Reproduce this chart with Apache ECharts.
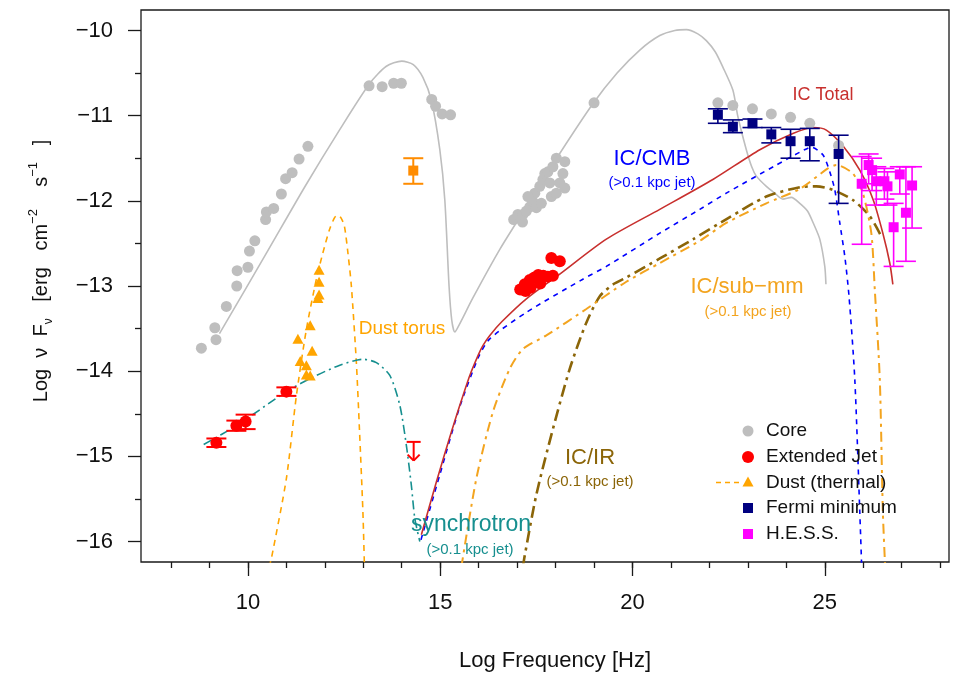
<!DOCTYPE html>
<html>
<head>
<meta charset="utf-8">
<script src="https://cdn.jsdelivr.net/npm/echarts@6/dist/echarts.min.js"></script>
<style>
html, body { margin: 0; padding: 0; background: #ffffff; }
#chart { width: 960px; height: 674px; }
</style>
</head>
<body>
<div id="chart"></div>
<script>
// ---- axis ticks ----
const xMajorTicks = [10, 15, 20, 25];
const xMinorTicks = [8, 9, 10, 11, 12, 13, 14, 15, 16, 17, 18, 19, 20, 21, 22, 23, 24, 25, 26, 27, 28];
const yMajorTicks = [-16, -15, -14, -13, -12, -11, -10];
const yMinorTicks = [-15.5, -14.5, -13.5, -12.5, -11.5, -10.5];

// ---- observed data: [log nu, log nuFnu] ----
const corePoints = [
  [8.79, -13.73], [9.14, -13.49], [9.17, -13.63], [9.44, -13.24], [9.71, -13.0], [9.72, -12.82],
  [10.0, -12.78], [10.04, -12.59], [10.18, -12.47], [10.46, -12.22], [10.48, -12.13], [10.67, -12.09],
  [10.87, -11.92], [10.98, -11.74], [11.15, -11.67], [11.33, -11.51], [11.56, -11.36],
  [13.15, -10.65], [13.49, -10.66], [13.79, -10.62], [13.99, -10.62],
  [14.78, -10.81], [14.88, -10.89], [15.05, -10.98], [15.27, -10.99],
  [16.91, -12.22], [17.14, -12.25], [17.02, -12.16], [17.15, -12.16], [17.24, -12.12], [17.33, -12.07],
  [17.41, -12.01], [17.50, -12.08], [17.46, -11.91], [17.28, -11.95], [17.63, -12.03], [17.59, -11.83],
  [17.67, -11.75], [17.72, -11.68], [17.85, -11.79], [17.89, -11.95], [18.02, -11.91], [17.80, -11.66],
  [17.93, -11.60], [18.11, -11.79], [18.24, -11.85], [18.19, -11.68], [18.02, -11.50], [18.24, -11.54],
  [19.0, -10.85],
  [22.22, -10.85], [22.61, -10.88], [23.12, -10.92], [23.61, -10.98], [24.11, -11.02], [24.61, -11.09], [25.36, -11.35]
];
// extended jet with small vertical errors: [x, y, low, high]
const jetErrPoints = [
  [9.18, -14.84, -14.89, -14.79],
  [9.70, -14.64, -14.70, -14.58],
  [9.94, -14.59, -14.68, -14.51],
  [11.0, -14.24, -14.29, -14.19]
];
const jetPoints = [
  [17.89, -12.67], [18.11, -12.71], [17.08, -13.04], [17.22, -13.06], [17.2, -12.98], [17.33, -12.93],
  [17.35, -13.02], [17.45, -12.90], [17.55, -12.87], [17.60, -12.97], [17.68, -12.88], [17.80, -12.89], [17.93, -12.88]
];
// upper limit: [x, limit, arrow tip]
const jetUpperLimit = [[14.31, -14.83, -15.05]];
const dustPoints = [
  [11.85, -12.81], [11.85, -12.95], [11.85, -13.10], [11.82, -13.14], [11.62, -13.46], [11.30, -13.62],
  [11.67, -13.76], [11.36, -13.88], [11.52, -13.93], [11.52, -14.04], [11.62, -14.05]
];
const dustErrPoint = [[14.30, -11.645, -11.80, -11.50]];
const fermiPoints = [
  [22.22, -10.99, -11.09, -10.92],
  [22.61, -11.13, -11.20, -11.05],
  [23.12, -11.09, -11.14, -11.04],
  [23.61, -11.22, -11.32, -11.14],
  [24.11, -11.30, -11.50, -11.16],
  [24.61, -11.30, -11.53, -11.15],
  [25.36, -11.45, -12.03, -11.23]
];
const hessPoints = [
  [25.96, -11.80, -12.51, -11.48],
  [26.14, -11.58, -11.80, -11.45],
  [26.23, -11.64, -11.88, -11.50],
  [26.34, -11.77, -12.05, -11.60],
  [26.55, -11.77, -11.98, -11.62],
  [26.63, -11.83, -12.05, -11.66],
  [26.95, -11.69, -11.92, -11.60],
  [27.27, -11.82, -12.32, -11.60],
  [27.11, -12.14, -12.71, -11.60],
  [26.79, -12.31, -12.77, -12.03]
];

// ---- model curves ----
const coreModel = [
  [9.26, -13.56], [10.5, -12.60], [11.5, -11.82], [12.38, -11.17], [13.17, -10.62], [13.6, -10.42],
  [14.0, -10.36], [14.3, -10.40], [14.55, -10.55], [14.77, -10.82], [14.99, -11.40], [15.12, -11.99],
  [15.23, -13.0], [15.30, -13.40], [15.38, -13.54], [15.5, -13.45], [15.85, -13.14], [16.55, -12.57],
  [17.24, -12.07], [18.1, -11.45], [18.97, -10.86], [19.6, -10.50], [20.19, -10.23], [20.71, -10.06],
  [21.1, -10.0], [21.4, -9.99], [21.7, -10.04], [21.92, -10.12], [22.15, -10.25], [22.35, -10.43],
  [22.61, -10.70], [22.74, -11.01], [22.96, -11.40], [23.1, -11.60], [23.22, -11.71], [23.48, -11.83],
  [23.70, -11.91], [23.91, -11.98], [24.13, -11.96], [24.35, -12.03], [24.55, -12.12], [24.70, -12.26],
  [24.87, -12.45], [25.0, -12.77], [25.03, -12.98]
];
const dustTorus = [
  [10.55, -16.3], [10.61, -16.2], [11.0, -15.26], [11.26, -14.29], [11.52, -13.51], [11.78, -12.92],
  [11.95, -12.61], [12.12, -12.34], [12.25, -12.20], [12.32, -12.17], [12.42, -12.20], [12.51, -12.30],
  [12.60, -12.61], [12.69, -13.0], [12.82, -13.90], [12.90, -14.68], [12.99, -15.65], [13.03, -16.3]
];
const synchrotron = [
  [8.85, -14.86], [9.70, -14.64], [11.0, -14.24], [11.69, -14.07], [12.39, -13.93], [12.99, -13.86],
  [13.34, -13.90], [13.69, -14.05], [13.95, -14.40], [14.12, -14.87], [14.25, -15.34], [14.34, -15.73], [14.47, -16.0]
];
const icIR = [
  [17.15, -16.3], [17.20, -16.16], [17.50, -15.45], [17.93, -14.68], [18.37, -13.97], [18.80, -13.43],
  [19.15, -13.12], [19.5, -12.98], [19.84, -12.90], [20.7, -12.68], [21.58, -12.45], [22.5, -12.20],
  [23.48, -11.95], [24.35, -11.84], [24.78, -11.83], [25.2, -11.87], [25.73, -11.99], [26.17, -12.18], [26.45, -12.40]
];
const icSubmm = [
  [15.55, -16.3], [15.94, -15.26], [16.37, -14.48], [16.81, -13.97], [17.15, -13.74], [17.76, -13.58],
  [18.80, -13.27], [19.84, -12.95], [20.71, -12.73], [21.75, -12.47], [22.44, -12.26], [23.48, -12.03],
  [24.35, -11.86], [25.08, -11.62], [25.30, -11.58], [25.73, -11.68], [25.99, -11.91], [26.21, -12.38],
  [26.30, -13.04], [26.43, -14.09], [26.51, -15.65], [26.57, -16.3]
];
const icCMB = [
  [14.5, -15.98], [15.0, -15.2], [15.5, -14.43], [16.0, -13.83], [16.29, -13.62], [17.24, -13.31],
  [18.71, -12.92], [19.32, -12.77], [20.71, -12.38], [21.75, -12.10], [22.44, -11.91], [23.74, -11.58],
  [24.35, -11.43], [24.65, -11.37], [24.95, -11.46], [25.13, -11.66], [25.26, -11.87], [25.39, -12.26],
  [25.52, -12.65], [25.63, -13.12], [25.78, -14.09], [25.91, -15.65], [25.96, -16.3]
];
const icTotal = [
  [14.51, -15.92], [14.9, -15.3], [15.3, -14.7], [15.51, -14.40], [15.77, -14.05], [16.0, -13.80],
  [16.11, -13.70], [16.29, -13.58], [16.6, -13.42], [17.24, -13.15], [18.11, -12.86], [19.32, -12.45],
  [20.71, -12.10], [22.09, -11.75], [23.31, -11.40], [24.17, -11.21], [24.70, -11.14], [25.04, -11.17],
  [25.48, -11.36], [25.91, -11.64], [26.26, -11.99], [26.51, -12.38], [26.69, -12.73], [26.77, -12.98]
];

const FONT = '"Liberation Sans", Arial, Helvetica, sans-serif';
const C = {
  core: '#bebebe', jet: '#ff0000', dust: '#ffa500', dustData: '#ff8c00', fermi: '#000080',
  hess: '#ff00ff', sync: '#168f8f', cmb: '#0000ff', submm: '#f3a41f', ir: '#8b6508', total: '#c8302e'
};

function minusFmt(v) { return (v < 0 ? '\u2212' : '') + Math.abs(v); }

function curve(name, data, color, width, dash) {
  return {
    name: name, type: 'line', data: data, showSymbol: false, symbol: 'none',
    smooth: 0.25, silent: true, z: 2,
    lineStyle: { color: color, width: width, type: dash }
  };
}

// vertical error bar with caps, drawn through the axis scales
function errorBars(name, data, color, width, halfCap) {
  return {
    name: name, type: 'custom', data: data, silent: true, z: 4,
    encode: { x: 0, y: 1 },
    renderItem: function (params, api) {
      const x = api.value(0);
      const lo = api.coord([x, api.value(2)]);
      const hi = api.coord([x, api.value(3)]);
      const st = { stroke: color, lineWidth: width, fill: null };
      return {
        type: 'group', children: [
          { type: 'line', shape: { x1: lo[0], y1: lo[1], x2: hi[0], y2: hi[1] }, style: st },
          { type: 'line', shape: { x1: lo[0] - halfCap, y1: lo[1], x2: lo[0] + halfCap, y2: lo[1] }, style: st },
          { type: 'line', shape: { x1: hi[0] - halfCap, y1: hi[1], x2: hi[0] + halfCap, y2: hi[1] }, style: st }
        ]
      };
    }
  };
}

function upperLimit(name, data, color) {
  return {
    name: name, type: 'custom', data: data, silent: true, z: 4,
    encode: { x: 0, y: 1 },
    renderItem: function (params, api) {
      const x = api.value(0);
      const top = api.coord([x, api.value(1)]);
      const tip = api.coord([x, api.value(2)]);
      const st = { stroke: color, lineWidth: 2, fill: null };
      return {
        type: 'group', children: [
          { type: 'line', shape: { x1: top[0] - 7, y1: top[1], x2: top[0] + 7, y2: top[1] }, style: st },
          { type: 'line', shape: { x1: top[0], y1: top[1], x2: tip[0], y2: tip[1] }, style: st },
          { type: 'line', shape: { x1: tip[0] - 6, y1: tip[1] - 6, x2: tip[0], y2: tip[1] }, style: st },
          { type: 'line', shape: { x1: tip[0] + 6, y1: tip[1] - 6, x2: tip[0], y2: tip[1] }, style: st }
        ]
      };
    }
  };
}

function scatter(name, data, color, symbol, size) {
  return {
    name: name, type: 'scatter', data: data.map(function (d) { return [d[0], d[1]]; }),
    symbol: symbol, symbolSize: size, silent: true, z: 3,
    itemStyle: { color: color, opacity: 1 }
  };
}

function label(text, x, y, color, size) {
  return {
    type: 'text', x: x, y: y, z: 10, silent: true,
    style: { text: text, fill: color, font: size + 'px ' + FONT, align: 'center', verticalAlign: 'middle' }
  };
}

const legendRows = [431, 457, 482.5, 508, 534];
const legendGraphics = [
  { type: 'circle', shape: { cx: 748, cy: legendRows[0], r: 5.5 }, style: { fill: C.core }, z: 10 },
  { type: 'circle', shape: { cx: 748, cy: legendRows[1], r: 6 }, style: { fill: C.jet }, z: 10 },
  { type: 'line', shape: { x1: 716, y1: legendRows[2], x2: 742, y2: legendRows[2] }, style: { stroke: C.dust, lineWidth: 1.5, lineDash: [5, 4] }, z: 10 },
  { type: 'polygon', shape: { points: [[748, legendRows[2] - 6], [753.5, legendRows[2] + 4], [742.5, legendRows[2] + 4]] }, style: { fill: C.dust }, z: 10 },
  { type: 'rect', shape: { x: 743, y: legendRows[3] - 5, width: 10, height: 10 }, style: { fill: C.fermi }, z: 10 },
  { type: 'rect', shape: { x: 743, y: legendRows[4] - 5, width: 10, height: 10 }, style: { fill: C.hess }, z: 10 }
];
const legendNames = ['Core', 'Extended Jet', 'Dust (thermal)', 'Fermi minimum', 'H.E.S.S.'];
legendNames.forEach(function (n, i) {
  legendGraphics.push({
    type: 'text', x: 766, y: legendRows[i], z: 10, silent: true,
    style: { text: n, fill: '#111', font: '19px ' + FONT, align: 'left', verticalAlign: 'middle' }
  });
});

const xRange = { min: 7.22, max: 28.23 };
const yRange = { min: -16.24, max: -9.76 };

const option = {
  animation: false,
  backgroundColor: '#ffffff',
  grid: { left: 141, top: 10, right: 11, bottom: 112, show: true, borderColor: '#1a1a1a', borderWidth: 1.3, backgroundColor: 'transparent' },
  xAxis: [
    {
      type: 'value', min: xRange.min, max: xRange.max, position: 'bottom',
      axisLine: { show: false }, splitLine: { show: false },
      axisTick: { show: true, customValues: xMajorTicks, length: 14, lineStyle: { color: '#1a1a1a', width: 1.3 } },
      axisLabel: { show: true, customValues: xMajorTicks, margin: 30, color: '#111', fontSize: 22, fontFamily: FONT, formatter: minusFmt }
    },
    {
      type: 'value', min: xRange.min, max: xRange.max, position: 'bottom',
      axisLine: { show: false }, splitLine: { show: false }, axisLabel: { show: false },
      axisTick: { show: true, customValues: xMinorTicks, length: 6, lineStyle: { color: '#1a1a1a', width: 1.3 } }
    }
  ],
  yAxis: [
    {
      type: 'value', min: yRange.min, max: yRange.max, position: 'left',
      axisLine: { show: false }, splitLine: { show: false },
      axisTick: { show: true, customValues: yMajorTicks, length: 13, lineStyle: { color: '#1a1a1a', width: 1.3 } },
      axisLabel: { show: true, customValues: yMajorTicks, margin: 28, color: '#111', fontSize: 22, fontFamily: FONT, formatter: minusFmt }
    },
    {
      type: 'value', min: yRange.min, max: yRange.max, position: 'left',
      axisLine: { show: false }, splitLine: { show: false }, axisLabel: { show: false },
      axisTick: { show: true, customValues: yMinorTicks, length: 6, lineStyle: { color: '#1a1a1a', width: 1.3 } }
    }
  ],
  series: [
    curve('Core model', coreModel, C.core, 1.6, 'solid'),
    curve('Dust torus', dustTorus, C.dust, 1.6, [6, 5]),
    curve('synchrotron', synchrotron, C.sync, 1.6, [9, 4, 2, 4]),
    curve('IC/IR', icIR, C.ir, 2.6, [12, 5, 3, 5]),
    curve('IC/sub-mm', icSubmm, C.submm, 2.0, [10, 5, 3, 5]),
    curve('IC/CMB', icCMB, C.cmb, 1.6, [5, 5]),
    curve('IC Total', icTotal, C.total, 1.6, 'solid'),
    scatter('Core', corePoints, C.core, 'circle', 11),
    scatter('Extended Jet', jetPoints, C.jet, 'circle', 12),
    scatter('Extended Jet errors pts', jetErrPoints, C.jet, 'circle', 12),
    errorBars('Extended Jet errors', jetErrPoints, C.jet, 2, 10),
    upperLimit('Extended Jet limit', jetUpperLimit, C.jet),
    scatter('Dust (thermal)', dustPoints, C.dust, 'triangle', [11, 10]),
    scatter('Dust square', dustErrPoint, C.dustData, 'rect', 10),
    errorBars('Dust square errors', dustErrPoint, C.dustData, 2, 10),
    errorBars('Fermi errors', fermiPoints, C.fermi, 1.6, 10),
    scatter('Fermi minimum', fermiPoints, C.fermi, 'rect', 10),
    errorBars('H.E.S.S. errors', hessPoints, C.hess, 1.6, 10),
    scatter('H.E.S.S.', hessPoints, C.hess, 'rect', 10)
  ],
  graphic: [
    label('IC Total', 823, 95, C.total, 18),
    label('IC/CMB', 652, 159, C.cmb, 22),
    label('(>0.1 kpc jet)', 652, 183, C.cmb, 15),
    label('IC/sub\u2212mm', 747, 287, C.submm, 22),
    label('(>0.1 kpc jet)', 748, 312, C.submm, 15),
    label('IC/IR', 590, 458, C.ir, 22),
    label('(>0.1 kpc jet)', 590, 482, C.ir, 15),
    label('synchrotron', 471, 525, C.sync, 23),
    label('(>0.1 kpc jet)', 470, 550, C.sync, 15),
    label('Dust torus', 402, 329, C.dust, 19),
    label('Log Frequency [Hz]', 555, 661, '#111', 22),
    {
      type: 'text', x: 41, y: 271, rotation: Math.PI / 2, z: 10, silent: true,
      style: {
        text: 'Log  \u03bd  F{sub|\u03bd}   [erg   cm{sup|\u22122}    s{sup|\u22121}   ]',
        fill: '#111', font: '20px ' + FONT, align: 'center', verticalAlign: 'middle',
        rich: {
          sub: { fontSize: 12, fontFamily: FONT, fill: '#111', verticalAlign: 'bottom', lineHeight: 28 },
          sup: { fontSize: 13, fontFamily: FONT, fill: '#111', verticalAlign: 'top', lineHeight: 28 }
        }
      }
    }
  ].concat(legendGraphics)
};

const chart = echarts.init(document.getElementById('chart'), null, { renderer: 'canvas' });
chart.setOption(option);
</script>
</body>
</html>
